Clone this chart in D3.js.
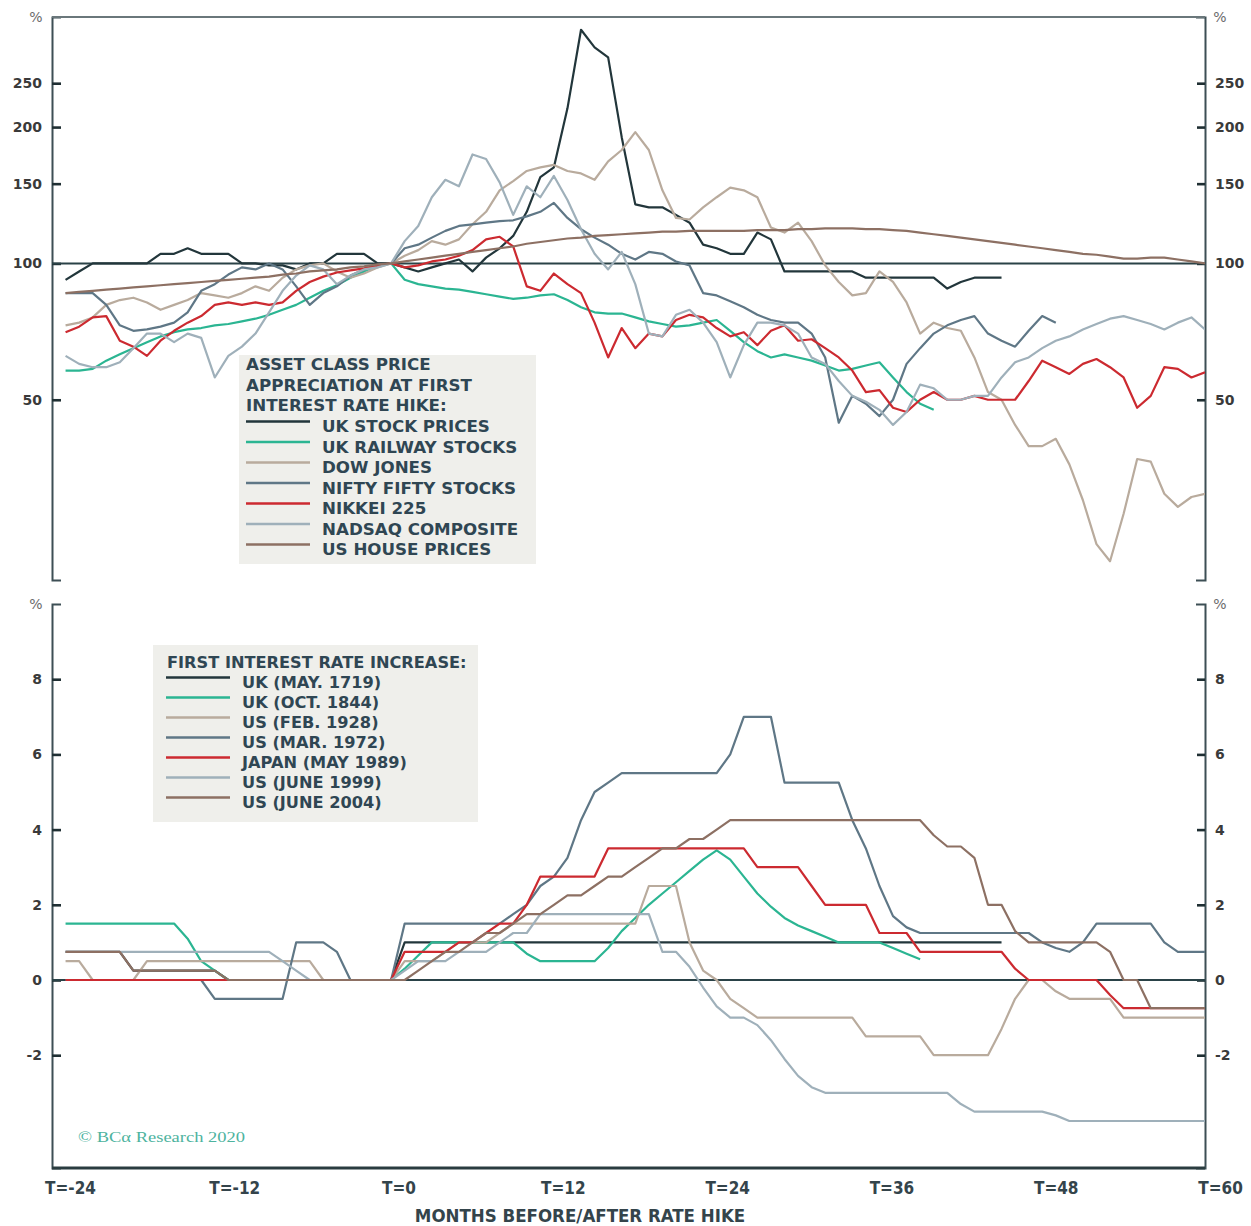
<!DOCTYPE html>
<html>
<head>
<meta charset="utf-8">
<script src="https://cdn.jsdelivr.net/npm/d3@7"></script>
<style>
  html, body { margin: 0; padding: 0; background: #ffffff; }
  svg { display: block; }
</style>
</head>
<body>
<svg id="chart" width="1251" height="1226"></svg>
<script>
// ---- months relative to the first rate hike ----
const months = d3.range(-24, 61);
const xTickMonths = [-24, -12, 0, 12, 24, 36, 48, 60];
const xTickLabels = ["T=-24", "T=-12", "T=0", "T=12", "T=24", "T=36", "T=48", "T=60"];
const topTicks = [50, 100, 150, 200, 250];
const bottomTicks = [-2, 0, 2, 4, 6, 8];

// ---- legend text ----
const assetTitle = ["ASSET CLASS PRICE", "APPRECIATION AT FIRST", "INTEREST RATE HIKE:"];
const assetNames = ["UK STOCK PRICES", "UK RAILWAY STOCKS", "DOW JONES", "NIFTY FIFTY STOCKS",
                    "NIKKEI 225", "NADSAQ COMPOSITE", "US HOUSE PRICES"];
const hikeTitle = "FIRST INTEREST RATE INCREASE:";
const hikeNames = ["UK (MAY. 1719)", "UK (OCT. 1844)", "US (FEB. 1928)", "US (MAR. 1972)",
                   "JAPAN (MAY 1989)", "US (JUNE 1999)", "US (JUNE 2004)"];
const seriesColors = ["#22363b", "#2bb592", "#b9ab9d", "#5f7786", "#cc2a30", "#9fb0ba", "#8d7063"];

// ---- asset prices, index (T=0 = 100), months -24 .. 60 ----
const ukStock = [92,96,100,100,100,100,100,105,105,108,
  105,105,105,100,100,99,99,97,100,100,
  105,105,105,100,100,98,96,98,100,102,
  96,103,108,115,130,155,163,220,328,300,
  285,190,135,133,133,128,123,110,108,105,
  105,117,113,96,96,96,96,96,96,93,
  93,93,93,93,93,88,91,93,93,93,
  null,null,null,null,null,null,null,null,null,null,null,null,null,null,null];
const ukRail = [58,58,58.5,61,63,65,67,69,70.5,71.5,
  72,73,73.5,74.5,75.5,77,79,81,84,87,
  89.5,93,96,99,100,92,90,89,88,87.5,
  86.5,85.5,84.5,83.5,84,85,85.5,83,80,78,
  77.5,77.5,76,74.5,73.5,72.5,73,74,75,71,
  67,64,62,63,62,61,59.5,58,58.5,59.5,
  60.5,56,52,49,47.5,null,null,null,null,null,
  null,null,null,null,null,null,null,null,null,null,null,null,null,null,null];
const dowJones = [73,74,76,81,83,84,82,79,81,83,
  86,85,84,86,89,87,93,97,99,100,
  96,93,95,98,100,104,107,112,110,113,
  122,130,145,152,160,163,165,160,158,153,
  168,178,195,178,145,126,125,133,140,147,
  145,140,120,117,123,112,99,91,85,86,
  96,91,82,70,74,72,71,62,52,50,
  44,39.5,39.5,41,36,30,24,22,28,37,
  36.5,31,29,30.5,31];
const niftyFifty = [86,86,86,81,73,71,71.5,72.5,74,78,
  87,90,94.5,98,97,100,97,89,81,86,
  89,94,97,99,100,108,110,114,118,121,
  122,123,124,124.5,127,130,136,126,119,114,
  110,105,102,106,105,101,99,86,85,82.5,
  80,77,75,74,74,70,62,44.5,51,49,
  46,50,60,65,70,73,75,76.5,70,67.5,
  65.5,71,76.5,74,null,null,null,null,null,null,
  null,null,null,null,null];
const nikkei = [70.5,72.5,76,76.5,67.5,65.5,62.5,67.5,71,74,
  76.5,81,82,81,82,81,82,87,91,93.5,
  95.5,96.5,97.5,99,100,98,99,101,102,104,
  107,113,114.5,109,89,87,95,90,86,74,
  62,72,65,70,69,75,77,76,72,69,
  70.5,66,71,73,67.5,68,65,62,58,52,
  52.5,48,47,50,52,50,50,51,50,50,
  50,55,61,59,57,60,61.5,59,56,48,
  51,59,58.5,56,57.5];
const nasdaq = [62.5,60,59,59,60.5,65,70,70,67,70,
  68.5,56,62.5,65.5,70,78,87,94,99,97,
  90,94,97,98,100,112,121,140,153,148,
  174,170,151,128,148,140,156,138,119,105,
  97,106,90,70,69,77,79,74,67,56,
  66,74,74,73,70,62,60,55,51,49.5,
  47.5,44,47,54,53,50,50,51,51,56,
  60.5,62,65,67.5,69,71.5,73.5,75.5,76.5,75,
  73.5,71.5,74,76,71.5];
const usHouse = [86,86.5,87,87.5,88,88.5,89,89.5,90,90.5,
  91,91.5,92,92.5,93,93.5,94.5,95,96,96.5,
  97,98,98.5,99.5,100,101,102,103,104,105,
  106,107,108,109,110.5,111.5,112.5,113.5,114,115,
  115.5,116,116.5,117,117.5,117.5,118,118,118,118,
  118,118.5,118.5,118.5,119,119,119.5,119.5,119.5,119,
  119,118.5,118,117,116,115,114,113,112,111,
  110,109,108,107,106,105,104.5,103.5,102.5,102.5,
  103,103,102,101,100];

// ---- policy rate change vs. level at first hike (%-points), months -24 .. 60 ----
const uk1719 = [0.75,0.75,0.75,0.75,0.75,0.25,0.25,0.25,0.25,0.25,
  0.25,0.25,0,0,0,0,0,0,0,0,
  0,0,0,0,0,1,1,1,1,1,
  1,1,1,1,1,1,1,1,1,1,
  1,1,1,1,1,1,1,1,1,1,
  1,1,1,1,1,1,1,1,1,1,
  1,1,1,1,1,1,1,1,1,1,
  null,null,null,null,null,null,null,null,null,null,null,null,null,null,null];
const uk1844 = [1.5,1.5,1.5,1.5,1.5,1.5,1.5,1.5,1.5,1.1,
  0.5,0.25,0,0,0,0,0,0,0,0,
  0,0,0,0,0,0.3,0.65,1,1,1,
  1,1,1,1,0.7,0.5,0.5,0.5,0.5,0.5,
  0.85,1.3,1.65,2,2.3,2.6,2.9,3.2,3.45,3.2,
  2.75,2.3,1.95,1.65,1.45,1.3,1.15,1,1,1,
  1,0.85,0.7,0.55,null,null,null,null,null,null,
  null,null,null,null,null,null,null,null,null,null,null,null,null,null,null];
const us1928 = [0.5,0.5,0,0,0,0,0.5,0.5,0.5,0.5,
  0.5,0.5,0.5,0.5,0.5,0.5,0.5,0.5,0.5,0,
  0,0,0,0,0,0.5,0.5,0.5,0.75,1,
  1,1,1.25,1.5,1.5,1.5,1.5,1.5,1.5,1.5,
  1.5,1.5,1.5,2.5,2.5,2.5,1,0.25,0,-0.5,
  -0.75,-1,-1,-1,-1,-1,-1,-1,-1,-1.5,
  -1.5,-1.5,-1.5,-1.5,-2,-2,-2,-2,-2,-1.3,
  -0.5,0,0,-0.3,-0.5,-0.5,-0.5,-0.5,-1,-1,
  -1,-1,-1,-1,-1];
const us1972 = [0,0,0,0,0,0,0,0,0,0,
  0,-0.5,-0.5,-0.5,-0.5,-0.5,-0.5,1,1,1,
  0.75,0,0,0,0,1.5,1.5,1.5,1.5,1.5,
  1.5,1.5,1.5,1.75,2,2.5,2.75,3.25,4.25,5,
  5.25,5.5,5.5,5.5,5.5,5.5,5.5,5.5,5.5,6,
  7,7,7,5.25,5.25,5.25,5.25,5.25,4.25,3.5,
  2.5,1.7,1.4,1.25,1.25,1.25,1.25,1.25,1.25,1.25,
  1.25,1.25,1,0.85,0.75,1,1.5,1.5,1.5,1.5,
  1.5,1,0.75,0.75,0.75];
const japan1989 = [0,0,0,0,0,0,0,0,0,0,
  0,0,0,0,0,0,0,0,0,0,
  0,0,0,0,0,0.75,0.75,0.75,0.75,1,
  1,1.25,1.5,1.5,2,2.75,2.75,2.75,2.75,2.75,
  3.5,3.5,3.5,3.5,3.5,3.5,3.5,3.5,3.5,3.5,
  3.5,3,3,3,3,2.5,2,2,2,2,
  1.25,1.25,1.25,0.75,0.75,0.75,0.75,0.75,0.75,0.75,
  0.3,0,0,0,0,0,0,-0.4,-0.75,-0.75,
  -0.75,-0.75,-0.75,-0.75,-0.75];
const us1999 = [0.75,0.75,0.75,0.75,0.75,0.75,0.75,0.75,0.75,0.75,
  0.75,0.75,0.75,0.75,0.75,0.75,0.5,0.25,0,0,
  0,0,0,0,0,0.25,0.5,0.5,0.5,0.75,
  0.75,0.75,1,1.25,1.25,1.75,1.75,1.75,1.75,1.75,
  1.75,1.75,1.75,1.75,0.75,0.75,0.35,-0.2,-0.7,-1,
  -1,-1.2,-1.6,-2.1,-2.55,-2.85,-3,-3,-3,-3,
  -3,-3,-3,-3,-3,-3,-3.3,-3.5,-3.5,-3.5,
  -3.5,-3.5,-3.5,-3.6,-3.75,-3.75,-3.75,-3.75,-3.75,-3.75,
  -3.75,-3.75,-3.75,-3.75,-3.75];
const us2004 = [0.75,0.75,0.75,0.75,0.75,0.25,0.25,0.25,0.25,0.25,
  0.25,0.25,0,0,0,0,0,0,0,0,
  0,0,0,0,0,0,0.25,0.5,0.75,0.75,
  1,1.25,1.25,1.5,1.75,1.75,2,2.25,2.25,2.5,
  2.75,2.75,3,3.25,3.5,3.5,3.75,3.75,4,4.25,
  4.25,4.25,4.25,4.25,4.25,4.25,4.25,4.25,4.25,4.25,
  4.25,4.25,4.25,4.25,3.85,3.55,3.55,3.25,2,2,
  1.3,1,1,1,1,1,1,0.75,0,0,
  -0.75,-0.75,-0.75,-0.75,-0.75];

const assetSeries = [ukStock, ukRail, dowJones, niftyFifty, nikkei, nasdaq, usHouse];
const hikeSeries = [uk1719, uk1844, us1928, us1972, japan1989, us1999, us2004];

// ---- scales ----
const plotLeft = 52, plotRight = 1205;
const x = d3.scaleLinear().domain([-25, 60]).range([plotLeft, plotRight]);
const xLabel = d3.scaleLinear().domain([-24, 60]).range([70, 1220]);
const yTop = d3.scaleLog().domain([20, 350]).range([580, 17]);
const yBot = d3.scaleLinear().domain([-5, 10]).range([1168, 604]);

const svg = d3.select("#chart");
const axisColor = "#3d4f55";
const tickFont = "'DejaVu Sans', sans-serif";
const condFont = "'DejaVu Sans Condensed', 'DejaVu Sans', sans-serif";
const plainNumber = d => String(d);

function styleAxis(g) {
  g.select(".domain").attr("stroke", axisColor).attr("stroke-width", 2);
  g.selectAll(".tick line").attr("stroke", "#1f2f33").attr("stroke-width", 2.6);
  g.selectAll(".tick text")
    .attr("font-family", tickFont).attr("font-weight", "bold")
    .attr("font-size", 14).attr("fill", "#3a3a3a");
}

function drawPanel(y, ticks, refValue, series, clipId, yTopPx, yBotPx) {
  // frame axes with corner end-ticks
  const left = svg.append("g").attr("transform", `translate(${plotLeft},0)`)
    .call(d3.axisLeft(y).tickValues(ticks).tickFormat(plainNumber)
      .tickSizeInner(-9).tickSizeOuter(-9).tickPadding(10));
  styleAxis(left);
  const right = svg.append("g").attr("transform", `translate(${plotRight},0)`)
    .call(d3.axisRight(y).tickValues(ticks).tickFormat(plainNumber)
      .tickSizeInner(-8).tickSizeOuter(-9).tickPadding(10));
  styleAxis(right);

  // % unit labels
  [36, 1220].forEach(px => {
    svg.append("text").attr("x", px).attr("y", y.range()[1] + 5)
      .attr("text-anchor", "middle").attr("font-family", tickFont)
      .attr("font-size", 14).attr("fill", "#6b6b6b").text("%");
  });

  // reference line
  svg.append("line")
    .attr("x1", plotLeft).attr("x2", plotRight)
    .attr("y1", y(refValue)).attr("y2", y(refValue))
    .attr("stroke", "#2a4247").attr("stroke-width", 2);

  svg.append("clipPath").attr("id", clipId).append("rect")
    .attr("x", plotLeft).attr("y", yTopPx).attr("width", plotRight - plotLeft)
    .attr("height", yBotPx - yTopPx);

  const line = d3.line()
    .defined(d => d != null)
    .x((d, i) => x(months[i]))
    .y(d => y(d));

  svg.append("g").attr("clip-path", `url(#${clipId})`)
    .selectAll("path").data(series).join("path")
    .attr("d", line)
    .attr("fill", "none")
    .attr("stroke", (d, i) => seriesColors[i])
    .attr("stroke-width", 2.2)
    .attr("stroke-linejoin", "round");
}

// ---- upper panel: asset prices (log scale) ----
drawPanel(yTop, topTicks, 100, assetSeries, "clipTop", 17, 580);
svg.append("line").attr("x1", plotLeft).attr("x2", plotRight)
  .attr("y1", 17).attr("y2", 17).attr("stroke", "#6a777b").attr("stroke-width", 2);

// ---- lower panel: interest rates ----
drawPanel(yBot, bottomTicks, 0, hikeSeries, "clipBot", 604, 1168);

// bottom time axis
svg.append("line").attr("x1", plotLeft).attr("x2", plotRight)
  .attr("y1", 1168).attr("y2", 1168).attr("stroke", "#2a3c40").attr("stroke-width", 3);
const xAxis = svg.append("g").attr("transform", "translate(0,1168)")
  .call(d3.axisBottom(xLabel).tickValues(xTickMonths)
    .tickFormat((d, i) => xTickLabels[i]).tickSize(0).tickPadding(14));
xAxis.select(".domain").remove();
xAxis.selectAll(".tick text")
  .attr("font-family", condFont).attr("font-stretch", "condensed")
  .attr("font-weight", "bold").attr("font-size", 17).attr("fill", "#34444b");

svg.append("text").attr("x", 580).attr("y", 1222).attr("text-anchor", "middle")
  .attr("font-family", condFont).attr("font-stretch", "condensed")
  .attr("font-weight", "bold").attr("font-size", 18.5).attr("fill", "#34444b")
  .text("MONTHS BEFORE/AFTER RATE HIKE");

// ---- legends ----
const legendFont = "'DejaVu Sans', sans-serif";
function drawLegend(box, titleLines, titleX, titleBase, names, swX, textX, firstBase, step, size) {
  const g = svg.append("g");
  g.append("rect").attr("x", box[0]).attr("y", box[1])
    .attr("width", box[2]).attr("height", box[3]).attr("fill", "#efefeb");
  titleLines.forEach((t, i) => {
    g.append("text").attr("x", titleX).attr("y", titleBase + i * step)
      .attr("font-family", legendFont).attr("font-weight", "bold")
      .attr("font-size", size).attr("fill", "#2f4653").text(t);
  });
  names.forEach((n, i) => {
    const base = firstBase + i * step;
    g.append("line").attr("x1", swX[0]).attr("x2", swX[1])
      .attr("y1", base - 10.5).attr("y2", base - 10.5)
      .attr("stroke", seriesColors[i]).attr("stroke-width", 2.4);
    g.append("text").attr("x", textX).attr("y", base)
      .attr("font-family", legendFont).attr("font-weight", "bold")
      .attr("font-size", size).attr("fill", "#2f4653").text(n);
  });
}
drawLegend([239, 355, 297, 209], assetTitle, 246, 370, assetNames, [246, 310], 322, 432, 20.5, 16.7);
drawLegend([153, 645, 325, 177], [hikeTitle], 167, 667.5, hikeNames, [166, 230], 242, 688, 20, 16.2);

// ---- source note ----
svg.append("text").attr("x", 78).attr("y", 1142)
  .attr("font-family", "'Liberation Serif', serif").attr("font-size", 15)
  .attr("fill", "#4db39e").attr("textLength", 167).attr("lengthAdjust", "spacingAndGlyphs")
  .text("© BCα Research 2020");
</script>
</body>
</html>
